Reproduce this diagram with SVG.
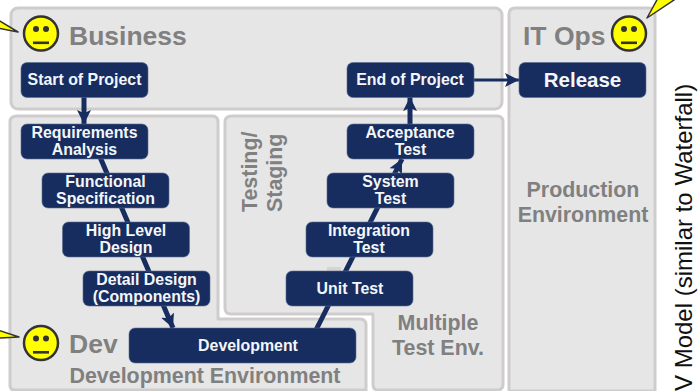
<svg xmlns="http://www.w3.org/2000/svg" width="700" height="391" viewBox="0 0 700 391">
<defs>
<marker id="ah" markerUnits="userSpaceOnUse" markerWidth="16" markerHeight="16" refX="14" refY="8" orient="auto"><path d="M0,1 L14,8 L0,15 L3,8 Z" fill="#172d5f"/></marker>
<g id="face"><circle r="17" fill="#ffff00" stroke="#333333" stroke-width="2.500"/><circle cx="-5" cy="-4.500" r="3" fill="#333333"/><circle cx="5" cy="-4.500" r="3" fill="#333333"/><rect x="-8" y="8" width="16" height="2.600" fill="#333333"/></g>
</defs>
<style>
.panel{fill:#e6e6e6;stroke:#cfcccc;stroke-width:3;stroke-linejoin:round}
.node{fill:#172d5f;stroke:#5a6b90;stroke-width:.6}
.nt{font:bold 15.900px "Liberation Sans",Arial,sans-serif;fill:#f4f6fa;text-anchor:middle}
.lab{font:bold 21.400px "Liberation Sans",Arial,sans-serif;fill:#808080;text-anchor:middle}
.big{font:bold 26.500px "Liberation Sans",Arial,sans-serif;fill:#808080}
.conn{fill:none;stroke:#172d5f;stroke-width:5}
.tail{fill:#ffff00;stroke:#333333;stroke-width:1.500;stroke-linejoin:round}
</style>
<rect width="700" height="391" fill="#ffffff"/>
<g id="panels">
<rect class="panel" x="11" y="8" width="491" height="101" rx="7"/>
<path class="panel" d="M17,116 H212 Q218,116 218,122 V319 H360 Q366,319 366,325 V390 H15 Q10,390 10,385 V122 Q10,116 17,116 Z"/>
<path class="panel" d="M232,116 H497 Q503,116 503,122 V384 Q503,390 497,390 H378 Q373,390 373,384 V314 H231 Q225,314 225,308 V122 Q225,116 232,116 Z"/>
<path class="panel" d="M516,8 H649 Q655,8 655,14 V391 H509 V14 Q509,8 516,8 Z"/>
<rect x="327" y="267" width="14" height="5" fill="#d6d4d4"/>
</g>
<g id="labels">
<text class="big" x="69" y="45">Business</text>
<text class="big" x="69" y="353">Dev</text>
<text class="big" x="523" y="45">IT Ops</text>
<text class="lab" x="205" y="383">Development Environment</text>
<text class="lab" x="438" y="330">Multiple</text>
<text class="lab" x="438" y="355">Test Env.</text>
<text class="lab" x="583" y="197">Production</text>
<text class="lab" x="583" y="222">Environment</text>
<text class="lab" transform="translate(257,212) rotate(-90)" x="0" y="0" style="text-anchor:start">Testing/</text>
<text class="lab" transform="translate(282,212) rotate(-90)" x="0" y="0" style="text-anchor:start">Staging</text>
<text transform="translate(692,391) rotate(-90)" font-family="'Liberation Sans',Arial,sans-serif" font-size="24" fill="#111111">V Model (similar to Waterfall)</text>
</g>
<g id="connectors">
<path class="conn" d="M84,97 V124" marker-end="url(#ah)"/>
<path class="conn" d="M97,150 L173,328" marker-end="url(#ah)"/>
<path class="conn" d="M316,330 L402,159" marker-end="url(#ah)"/>
<path class="conn" d="M410,124 V97" marker-end="url(#ah)"/>
<path class="conn" d="M474,80 H519" style="stroke-width:3" marker-end="url(#ah)"/>
</g>
<g id="n-start"><rect class="node" x="21" y="62.500" width="127" height="35" rx="6"/><text class="nt" x="84.500" y="85">Start of Project</text></g>
<g id="n-req"><rect class="node" x="21" y="124" width="127" height="35" rx="6"/><text class="nt" x="84.500" y="138">Requirements</text><text class="nt" x="84.500" y="155">Analysis</text></g>
<g id="n-func"><rect class="node" x="42" y="173" width="127" height="35" rx="6"/><text class="nt" x="105.500" y="187">Functional</text><text class="nt" x="105.500" y="204">Specification</text></g>
<g id="n-high"><rect class="node" x="62.500" y="222" width="127" height="35" rx="6"/><text class="nt" x="126" y="236">High Level</text><text class="nt" x="126" y="253">Design</text></g>
<g id="n-detail"><rect class="node" x="83" y="271" width="127" height="35" rx="6"/><text class="nt" x="146.500" y="285">Detail Design</text><text class="nt" x="146.500" y="302">(Components)</text></g>
<g id="n-dev"><rect class="node" x="129" y="328" width="227" height="35" rx="6"/><text class="nt" x="248" y="351">Development</text></g>
<g id="n-unit"><rect class="node" x="286" y="271" width="127" height="35" rx="6"/><text class="nt" x="350" y="294">Unit Test</text></g>
<g id="n-int"><rect class="node" x="306" y="222" width="127" height="35" rx="6"/><text class="nt" x="369" y="236">Integration</text><text class="nt" x="369" y="253">Test</text></g>
<g id="n-sys"><rect class="node" x="327" y="173" width="127" height="35" rx="6"/><text class="nt" x="390.500" y="187">System</text><text class="nt" x="390.500" y="204">Test</text></g>
<g id="n-acc"><rect class="node" x="347" y="124" width="127" height="35" rx="6"/><text class="nt" x="410" y="138">Acceptance</text><text class="nt" x="410.500" y="155">Test</text></g>
<g id="n-end"><rect class="node" x="347" y="62.500" width="127" height="35" rx="6"/><text class="nt" x="410" y="85">End of Project</text></g>
<g id="n-rel"><rect class="node" x="519" y="62.500" width="127" height="35" rx="6"/><text class="nt" x="582.500" y="87" style="font-size:20.500px">Release</text></g>
<g id="s-business"><path class="tail" d="M-2,20 L18,32 L-2,28 Z"/><use href="#face" x="41" y="33.500"/></g>
<g id="s-dev"><path class="tail" d="M-2,330 L19,337 L-2,338 Z"/><use href="#face" x="41" y="343"/></g>
<g id="s-it"><path class="tail" d="M658,-2 L647,18 L677,-2 Z"/><use href="#face" x="629" y="33.500"/></g>
</svg>
